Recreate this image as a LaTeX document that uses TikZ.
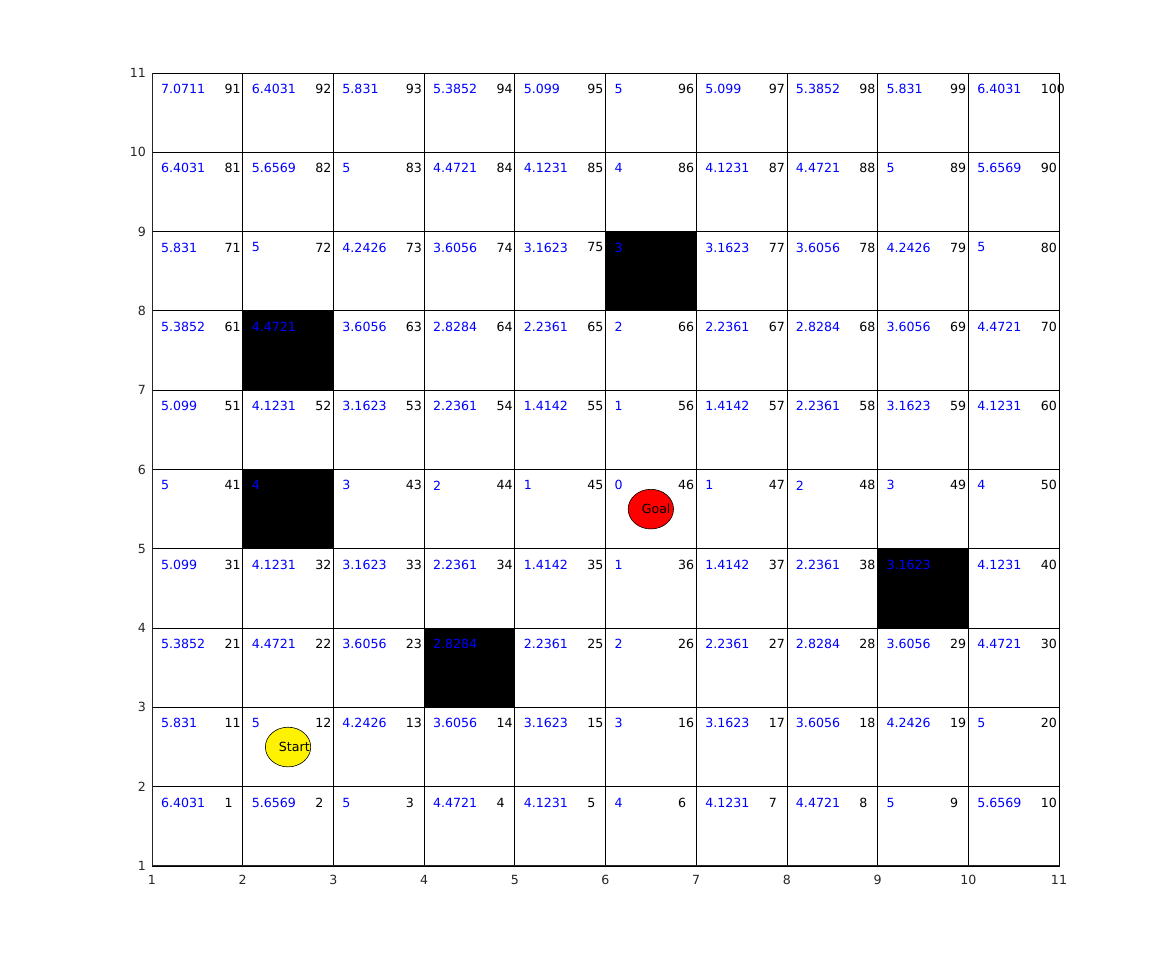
\documentclass[tikz,border=0pt]{standalone}
\usepackage{fontspec}
\setmainfont{DejaVu Sans}
\begin{document}
\begin{tikzpicture}[
  every node/.style={font=\fontsize{12.6pt}{15pt}\selectfont, inner sep=0pt, outer sep=0pt},
  cellbox/.style={draw=black, line width=0.8pt},
  obstacle/.style={fill=black, draw=black, line width=0.8pt},
  distlabel/.style={anchor=west, text=blue},
  idxlabel/.style={anchor=west, text=black},
  axisline/.style={draw=black!85, line width=1pt},
  ticklabel/.style={text=black!85},
  marker/.style={draw=black, line width=0.6pt},
  markerlabel/.style={anchor=west, text=black}
]
\useasboundingbox (0pt,0pt) rectangle (1170pt,973pt);
\begin{scope}[shift={(61.3pt,27.7pt)}, x=90.7pt, y=79.3pt]
  % grid cells
  \foreach \r in {0,...,9} {
    \foreach \c in {0,...,9} {
      \draw[cellbox] (\c+1,\r+1) rectangle +(1,1);
    }
  }
  % obstacles
  \foreach \cc/\rr in {4/3, 9/4, 2/5, 2/7, 6/8} {
    \draw[obstacle] (\cc,\rr) rectangle +(1,1);
  }
  % axes
  \draw[axisline] (1,11) -- (1,1) -- (11,1);
  \foreach \t in {1,...,11} {
    \node[ticklabel, anchor=north, yshift=-9pt] (xt\t) at (\t,1) {\t};
    \node[ticklabel, anchor=east, xshift=-6pt] (yt\t) at (1,\t) {\t};
  }
  % labels
  \foreach \vals [count=\r from 0] in {
    {6.4031,5.6569,5,4.4721,4.1231,4,4.1231,4.4721,5,5.6569},
    {5.831,5,4.2426,3.6056,3.1623,3,3.1623,3.6056,4.2426,5},
    {5.3852,4.4721,3.6056,2.8284,2.2361,2,2.2361,2.8284,3.6056,4.4721},
    {5.099,4.1231,3.1623,2.2361,1.4142,1,1.4142,2.2361,3.1623,4.1231},
    {5,4,3,2,1,0,1,2,3,4},
    {5.099,4.1231,3.1623,2.2361,1.4142,1,1.4142,2.2361,3.1623,4.1231},
    {5.3852,4.4721,3.6056,2.8284,2.2361,2,2.2361,2.8284,3.6056,4.4721},
    {5.831,5,4.2426,3.6056,3.1623,3,3.1623,3.6056,4.2426,5},
    {6.4031,5.6569,5,4.4721,4.1231,4,4.1231,4.4721,5,5.6569},
    {7.0711,6.4031,5.831,5.3852,5.099,5,5.099,5.3852,5.831,6.4031}} {
    \foreach \v [count=\c from 0] in \vals {
      \pgfmathtruncatemacro\idx{\r*10+\c+1}
      \node[distlabel] (d\idx) at (\c+1.1,\r+1.8) {\v};
      \pgfmathtruncatemacro\isobs{or(or(\idx==24,\idx==39),or(\idx==42,or(\idx==62,\idx==76)))}
      \ifnum\isobs=0
        \node[idxlabel] (n\idx) at (\c+1.8,\r+1.8) {\idx};
      \fi
    }
  }
  % start and goal
  \draw[marker, fill=yellow] (2.5,2.5) ellipse [x radius=0.25, y radius=0.25];
  \node[markerlabel] (start) at (2.4,2.5) {Start};
  \draw[marker, fill=red] (6.5,5.5) ellipse [x radius=0.25, y radius=0.25];
  \node[markerlabel] (goal) at (6.4,5.5) {Goal};
\end{scope}
\end{tikzpicture}
\end{document}
